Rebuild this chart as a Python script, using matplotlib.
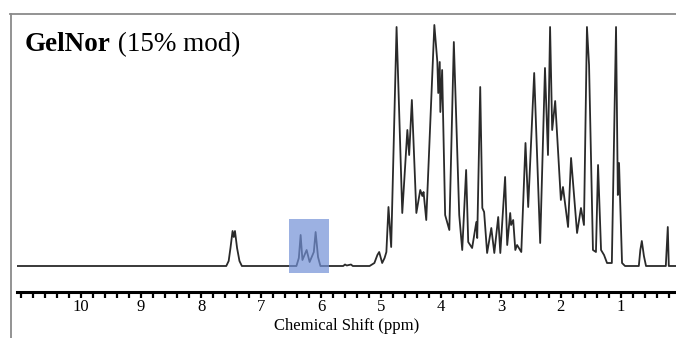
import matplotlib.pyplot as plt
from matplotlib.ticker import MultipleLocator
from matplotlib.patches import Rectangle
from matplotlib.lines import Line2D

plt.rcParams['font.family'] = ['Liberation Serif', 'DejaVu Serif']

# spectrum trace (ppm, intensity a.u.)
shift_ppm = [11.07, 7.58, 7.54, 7.51, 7.475, 7.455, 7.435, 7.40, 7.36, 7.32,
             6.41, 6.37, 6.34, 6.31, 6.24, 6.19, 6.12, 6.09, 6.05, 6.01,
             5.63, 5.60, 5.57, 5.50, 5.47, 5.19, 5.11, 5.06, 5.03, 4.98,
             4.94, 4.91, 4.875, 4.83, 4.74, 4.645, 4.56, 4.53, 4.485, 4.41,
             4.345, 4.31, 4.29, 4.245, 4.11, 4.06, 4.045, 4.02, 4.01, 3.98,
             3.93, 3.86, 3.785, 3.695, 3.645, 3.58, 3.545, 3.48, 3.41, 3.395,
             3.345, 3.31, 3.28, 3.23, 3.16, 3.11, 3.045, 3.01, 2.93, 2.895,
             2.845, 2.83, 2.795, 2.76, 2.73, 2.66, 2.59, 2.545, 2.445, 2.345,
             2.265, 2.215, 2.18, 2.145, 2.095, 2.00, 1.965, 1.88, 1.83, 1.73,
             1.665, 1.615, 1.565, 1.53, 1.465, 1.415, 1.38, 1.33, 1.28, 1.23,
             1.15, 1.08, 1.05, 1.03, 0.98, 0.93, 0.70, 0.675, 0.65, 0.615,
             0.58, 0.25, 0.217, 0.20, 0.08]
intensity = [0, 0, 5, 18, 35, 29, 35, 18, 5, 0,
             0, 8, 31, 6, 16, 4, 14, 34, 9, 0,
             0, 1.5, 0.5, 1.5, 0, 0, 3, 11, 14, 3,
             8, 14, 59, 19, 239, 53, 136, 111, 166, 53,
             76, 70, 74, 46, 241, 204, 173, 204, 154, 196,
             51, 36, 224, 51, 16, 96, 24, 18, 44, 28,
             179, 58, 54, 13, 38, 13, 49, 13, 89, 21,
             53, 41, 46, 16, 21, 14, 123, 59, 193, 23,
             198, 111, 239, 136, 165, 66, 79, 39, 108, 33,
             58, 41, 239, 201, 16, 14, 101, 16, 11, 3,
             3, 239, 71, 103, 3, 0, 0, 16, 25, 10,
             0, 0, 39, 0, 0]

highlight_ppm = (6.54, 5.87)
tick_values = list(range(1, 11))

fig = plt.figure(figsize=(6.76, 3.38), dpi=100)
ax = fig.add_axes([17 / 676, 46 / 338, 659 / 676, 279 / 338])

ax.plot(shift_ppm, intensity, color='#2a2a2a', lw=1.3, zorder=2)
ax.add_patch(Rectangle((highlight_ppm[1], -7), highlight_ppm[0] - highlight_ppm[1], 54,
                       facecolor='#7391d7', alpha=0.7, edgecolor='none', zorder=3))

ax.set_xlim(11.07, 0.08)
ax.set_ylim(-26, 253)
for s in ['top', 'left', 'right']:
    ax.spines[s].set_visible(False)
ax.spines['bottom'].set_linewidth(2.2)
ax.set_yticks([])
ax.set_xticks(tick_values)
ax.set_xticklabels([str(v) for v in tick_values])
ax.xaxis.set_minor_locator(MultipleLocator(0.2))
ax.tick_params(axis='x', which='both', direction='out', length=4, width=1.6,
               labelsize=12, pad=1)
ax.set_xlabel('Chemical Shift (ppm)', fontsize=12, labelpad=2)

# frame lines
fig.add_artist(Line2D([10 / 676, 1], [1 - 13.5 / 338] * 2, color='#8a8a8a', lw=1.3))
fig.add_artist(Line2D([10.5 / 676] * 2, [0, 1 - 13.5 / 338], color='#8a8a8a', lw=1.3))

t = fig.text(25 / 676, 1 - 57 / 338, 'GelNor', fontsize=19.5, fontweight='bold',
             va='bottom', ha='left')
ax.annotate(' (15% mod)', xy=(1, 0), xycoords=t, fontsize=19.5,
            va='bottom', ha='left', annotation_clip=False)

fig.savefig('out.png', dpi=100)
